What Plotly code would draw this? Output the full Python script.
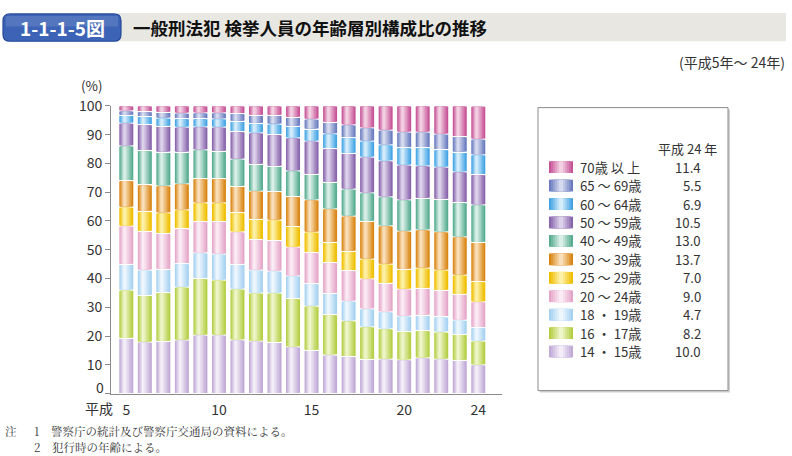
import plotly.graph_objects as go
import numpy as np

# ---------------- data ----------------
years = list(range(5, 25))  # 平成5年〜24年
tick_vals = [5, 10, 15, 20, 24]
tick_text = ["5", "10", "15", "20", "24"]
y_tick_vals = [0, 10, 20, 30, 40, 50, 60, 70, 80, 90, 100]
y_tick_text = ["", "10", "20", "30", "40", "50", "60", "70", "80", "90", "100"]

age_labels = ["14 ・ 15歳", "16 ・ 17歳", "18 ・ 19歳", "20 ～ 24歳", "25 ～ 29歳",
              "30 ～ 39歳", "40 ～ 49歳", "50 ～ 59歳", "60 ～ 64歳", "65 ～ 69歳", "70歳 以 上"]

a14_15 = [19.2, 17.9, 18.1, 18.6, 20.3, 20.3, 18.7, 18.2, 17.8, 16.2, 15.0, 13.4, 12.8, 11.9, 12.0, 11.7, 12.4, 12.0, 11.5, 10.0]
a16_17 = [16.8, 16.2, 17.0, 18.4, 19.7, 19.1, 17.6, 16.7, 17.1, 16.8, 15.4, 14.0, 12.5, 11.3, 10.5, 9.8, 9.5, 9.4, 9.1, 8.2]
a18_19 = [8.9, 8.8, 8.1, 8.2, 8.9, 9.1, 8.6, 8.0, 7.7, 7.9, 7.8, 7.4, 6.8, 6.2, 5.9, 5.4, 5.3, 5.3, 4.9, 4.7]
a20_24 = [13.3, 13.5, 12.5, 12.1, 10.9, 11.3, 11.3, 10.6, 10.6, 10.0, 10.8, 10.7, 10.6, 10.5, 9.9, 9.4, 9.4, 9.2, 9.0, 9.0]
a25_29 = [6.6, 6.9, 7.1, 6.6, 6.5, 6.5, 6.7, 7.1, 7.1, 7.1, 7.1, 7.1, 6.7, 6.8, 6.7, 6.9, 7.0, 7.0, 6.7, 7.0]
a30_39 = [9.2, 9.3, 9.4, 9.0, 8.4, 8.4, 9.1, 9.8, 9.9, 10.5, 11.2, 11.6, 12.3, 13.2, 13.3, 13.3, 13.3, 13.3, 13.3, 13.7]
a40_49 = [12.1, 11.9, 11.7, 11.0, 10.0, 9.5, 9.5, 9.3, 8.8, 8.9, 8.9, 9.2, 9.4, 9.9, 10.1, 10.8, 11.0, 11.3, 11.9, 13.0]
a50_59 = [7.9, 9.0, 9.0, 8.7, 8.0, 8.4, 9.6, 10.9, 11.0, 11.5, 11.6, 11.8, 12.4, 12.4, 12.5, 12.1, 11.3, 11.2, 10.7, 10.5]
a60_64 = [2.7, 2.8, 2.9, 3.0, 2.9, 2.9, 3.5, 3.3, 3.7, 4.0, 4.1, 5.1, 5.5, 5.6, 5.6, 6.1, 6.3, 6.1, 6.8, 6.9]
a65_69 = [1.6, 1.7, 2.0, 1.9, 2.0, 2.1, 2.7, 2.8, 3.0, 3.1, 3.5, 4.0, 4.4, 4.6, 5.1, 5.4, 5.4, 5.4, 5.4, 5.5]
a70_up = [1.7, 2.0, 2.2, 2.5, 2.4, 2.4, 2.7, 3.3, 3.3, 4.0, 4.6, 5.7, 6.6, 7.6, 8.4, 9.1, 9.1, 9.8, 10.7, 11.4]

series = [a14_15, a16_17, a18_19, a20_24, a25_29, a30_39, a40_49, a50_59, a60_64, a65_69, a70_up]

# ---------------- style ----------------
edge_colors = ["#c0a9d6", "#b3ce44", "#a6d1f1", "#e4a6c8", "#efbe00", "#d98513",
               "#56ab90", "#8864ab", "#43a3e5", "#6a7cbf", "#c65397"]
light_colors = ["#f3eef8", "#eef5c9", "#eef7fd", "#fbebf4", "#fdf1a9", "#f9dfb9",
                "#d9efe7", "#ddd2eb", "#d5edfb", "#d6dbef", "#f3d1e3"]

W, H = 792, 456
FONT = "Noto Sans CJK JP, Noto Sans, sans-serif"


def hex2rgb(h):
    h = h.lstrip("#")
    return tuple(int(h[i:i + 2], 16) for i in (0, 2, 4))


def mix(c1, c2, t):
    a, b = hex2rgb(c1), hex2rgb(c2)
    return "rgb(%d,%d,%d)" % tuple(round(a[i] + (b[i] - a[i]) * t) for i in range(3))


def px(x):
    return x / W


def py(y):
    return 1 - y / H


def note(text, x, y, size=14, anchor="left", color="#333", bold=False, family=FONT, yanchor="middle"):
    return dict(text=("<b>%s</b>" % text) if bold else text, x=px(x), y=py(y),
                xref="paper", yref="paper", showarrow=False, xanchor=anchor, yanchor=yanchor,
                borderpad=0, font=dict(family=family, size=size, color=color))


fig = go.Figure()

BAR_W = 0.755
PEAK = 0.36      # position of highlight across bar width
NL = 6           # gradient layers
GAP = 0.22       # vertical white gap (data units) between segments

cum = np.zeros(len(years))
for vals, ce, cl, name in zip(series, edge_colors, light_colors, age_labels):
    v = np.array(vals, dtype=float)
    for k in range(NL):
        s = k / NL
        lt = PEAK * s
        rt = 1 - (1 - PEAK) * s
        fig.add_trace(go.Bar(
            x=years, y=v - 2 * GAP, base=cum + GAP,
            width=BAR_W * (rt - lt), offset=-BAR_W / 2 + BAR_W * lt,
            marker=dict(color=mix(ce, cl, k / (NL - 1)), line=dict(width=0)),
            name=name, showlegend=False, hoverinfo="skip"))
    cum = cum + v

shapes = []
annotations = []

# header band
shapes.append(dict(type="rect", xref="paper", yref="paper", x0=px(118), x1=px(786), y0=py(31), y1=py(2),
                   fillcolor="#e8e7e2", line=dict(width=0), layer="below"))
# blue label box (rounded)
x0, x1, y0, y1, r = 3, 121, 3, 31, 7
path = (f"M {px(x0 + r)} {py(y0)} L {px(x1 - r)} {py(y0)} Q {px(x1)} {py(y0)} {px(x1)} {py(y0 + r)} "
        f"L {px(x1)} {py(y1 - r)} Q {px(x1)} {py(y1)} {px(x1 - r)} {py(y1)} "
        f"L {px(x0 + r)} {py(y1)} Q {px(x0)} {py(y1)} {px(x0)} {py(y1 - r)} "
        f"L {px(x0)} {py(y0 + r)} Q {px(x0)} {py(y0)} {px(x0 + r)} {py(y0)} Z")
shapes.append(dict(type="path", xref="paper", yref="paper", path=path,
                   fillcolor="#3d63b6", line=dict(color="#274a98", width=1.2)))
shapes.append(dict(type="rect", xref="paper", yref="paper", x0=px(6), x1=px(118), y0=py(16), y1=py(5),
                   fillcolor="rgba(255,255,255,0.12)", line=dict(width=0)))

annotations.append(note("1-1-1-5図", 62, 17, size=19, anchor="center", color="white", bold=True))
annotations.append(note("一般刑法犯 検挙人員の年齢層別構成比の推移", 132, 17, size=17.5, color="#111", bold=True))
annotations.append(note("(平成5年～ 24年)", 786, 52, size=14, anchor="right"))
annotations.append(note("(%)", 92, 76, size=13.5, anchor="center"))
annotations.append(note("平成", 114, 407, size=14, anchor="right"))
annotations.append(note("0", 105, 385, size=14, anchor="right"))

# legend box
shapes.append(dict(type="rect", xref="paper", yref="paper", x0=px(540), x1=px(730), y0=py(391), y1=py(101),
                   fillcolor="#d0d0d0", line=dict(width=0)))
shapes.append(dict(type="rect", xref="paper", yref="paper", x0=px(538), x1=px(728), y0=py(389), y1=py(99),
                   fillcolor="white", line=dict(color="#8a8a8a", width=1)))
annotations.append(note("平成 24 年", 718, 141, size=13, anchor="right"))

n = len(series)
for i in range(n):
    j = n - 1 - i  # top of legend = last series
    yc = 160 + 18.9 * i
    ce, cl = edge_colors[j], light_colors[j]
    sx0, sx1 = 549, 573
    for k in range(NL):
        s = k / NL
        a = sx0 + (sx1 - sx0) * 0.5 * s
        b = sx1 - (sx1 - sx0) * 0.5 * s
        shapes.append(dict(type="rect", xref="paper", yref="paper", x0=px(a), x1=px(b),
                           y0=py(yc + 6), y1=py(yc - 6),
                           fillcolor=mix(ce, cl, k / (NL - 1)), line=dict(width=0)))
    annotations.append(note(age_labels[j], 579, yc, size=13.2))
    annotations.append(note("%.1f" % series[j][-1], 702, yc, size=13.2, anchor="right"))

# notes
NOTE_FAMILY = "Noto Serif CJK JP, Noto Sans CJK JP, serif"
annotations.append(note("注", 4, 430, size=11.5, family=NOTE_FAMILY))
annotations.append(note("1　警察庁の統計及び警察庁交通局の資料による。", 33, 430, size=11.5, family=NOTE_FAMILY))
annotations.append(note("2　犯行時の年齢による。", 33, 455.5, size=11.5, family=NOTE_FAMILY, yanchor="bottom"))

fig.update_layout(
    width=W, height=H,
    margin=dict(l=0, r=0, t=0, b=0),
    paper_bgcolor="white", plot_bgcolor="white",
    barmode="overlay",
    showlegend=False,
    font=dict(family=FONT, size=14, color="#333"),
    shapes=shapes, annotations=annotations,
    xaxis=dict(domain=[px(111), px(502)], range=[4.174, 25.28],
               showline=True, linecolor="#8a8a8a", linewidth=1,
               ticks="", tickvals=tick_vals, ticktext=tick_text,
               ticklabelstandoff=4,
               tickfont=dict(family=FONT, size=14, color="#333"),
               showgrid=False, zeroline=False, fixedrange=True),
    yaxis=dict(domain=[py(392), py(97.3)], range=[0, 100],
               tickvals=y_tick_vals, ticktext=y_tick_text,
               showline=True, linecolor="#8a8a8a", linewidth=1,
               ticks="outside", ticklen=5, tickcolor="#8a8a8a",
               tickfont=dict(family=FONT, size=14, color="#333"),
               showgrid=False, zeroline=False, fixedrange=True),
)

fig.write_html("out.html", config={"displayModeBar": False},
               post_script="document.body.style.margin='0';document.body.style.padding='0';"
                           "document.body.style.overflow='hidden';")
